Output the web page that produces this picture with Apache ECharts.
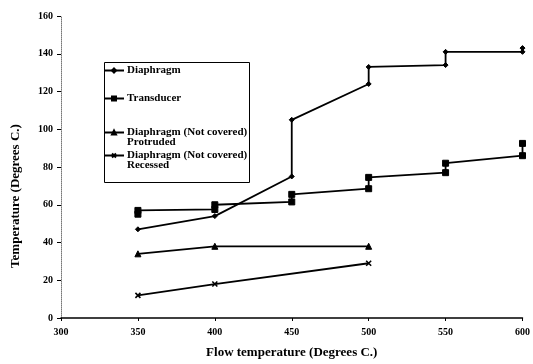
<!DOCTYPE html>
<html style="height: 100%">
<head>
    <meta charset="utf-8">
    <title>Temperature vs flow temperature</title>
    <script src="https://cdn.jsdelivr.net/npm/echarts@6/dist/echarts.min.js"></script>
</head>
<body style="height: 100%; margin: 0; background: #fff">
<div id="main" style="width: 533px; height: 364px"></div>

<script type="text/javascript">

    // data: [flow temperature, temperature]
    var diaphragm = [[350, 47], [400, 54], [450, 75], [450, 105], [500, 124], [500, 133],
                     [550, 134], [550, 141], [600, 141], [600, 143]];
    var transducer = [[350, 55], [350, 57], [400, 57.5], [400, 60], [450, 61.5], [450, 65.5],
                      [500, 68.5], [500, 74.5], [550, 77], [550, 82], [600, 86], [600, 92.5]];
    var protruded = [[350, 34], [400, 38], [500, 38]];
    var recessed = [[350, 12], [400, 18], [500, 29]];

    var seriesNames = ['Diaphragm', 'Transducer', 'Diaphragm (Not covered) Protruded',
                       'Diaphragm (Not covered) Recessed'];
    var legendLabels = ['Diaphragm', 'Transducer', ' \nDiaphragm (Not covered)\nProtruded',
                        ' \nDiaphragm (Not covered)\nRecessed'];
    var legendTops = [65, 93, 117, 140];

    var serif = '"Liberation Serif", "DejaVu Serif", serif';

    var myChart = echarts.init(document.getElementById('main'));

    function lineSeries(name, data, symbol, size, bw) {
        return {
            name: name,
            type: 'line',
            data: data,
            symbol: symbol,
            symbolSize: size,
            showSymbol: true,
            animation: false,
            lineStyle: {color: '#000', width: 1.8},
            itemStyle: {color: '#000', borderColor: '#000', borderWidth: bw}
        };
    }

    var legends = [];
    for (var i = 0; i < seriesNames.length; i++) {
        legends.push({
            data: [seriesNames[i]],
            left: 103,
            top: legendTops[i],
            padding: 0,
            itemWidth: 20,
            itemHeight: 5,
            itemGap: 2,
            selectedMode: false,
            formatter: (function (k) {
                return function () { return legendLabels[k]; };
            })(i),
            textStyle: {
                fontFamily: serif,
                fontWeight: 'bold',
                fontSize: 11,
                lineHeight: 10,
                color: '#000',
                padding: [0, 0, 0, -2]
            }
        });
    }

    var option = {
        backgroundColor: '#fff',
        animation: false,
        grid: {left: 61, right: 10, top: 16, bottom: 44},
        legend: legends,
        xAxis: {
            type: 'value',
            min: 300,
            max: 600,
            interval: 50,
            name: 'Flow temperature (Degrees C.)',
            nameLocation: 'middle',
            nameGap: 28,
            nameTextStyle: {fontFamily: serif, fontWeight: 'bold', fontSize: 13, color: '#000'},
            axisLine: {lineStyle: {color: '#000', width: 1.5}},
            axisTick: {length: 3, lineStyle: {color: '#000'}},
            axisLabel: {fontFamily: serif, fontWeight: 'bold', fontSize: 10, color: '#000', margin: 9},
            splitLine: {show: false}
        },
        yAxis: {
            type: 'value',
            min: 0,
            max: 160,
            interval: 20,
            axisLine: {show: true, lineStyle: {color: '#777', width: 1, type: 'dotted'}},
            axisTick: {show: true, length: 4, lineStyle: {color: '#000'}},
            axisLabel: {fontFamily: serif, fontWeight: 'bold', fontSize: 10, color: '#000', margin: 8},
            splitLine: {show: false}
        },
        graphic: [
            {
                type: 'rect',
                left: 102,
                top: 60,
                shape: {width: 145, height: 120},
                style: {fill: 'none', stroke: '#000', lineWidth: 1},
                silent: true
            },
            {
                type: 'text',
                x: 16,
                y: 196,
                rotation: Math.PI / 2,
                style: {
                    text: 'Temperature (Degrees C.)',
                    font: 'bold 13px ' + serif,
                    fill: '#000',
                    align: 'center',
                    verticalAlign: 'middle'
                }
            }
        ],
        series: [
            lineSeries(seriesNames[0], diaphragm, 'diamond', 5, 1),
            lineSeries(seriesNames[1], transducer, 'rect', 6, 1),
            lineSeries(seriesNames[2], protruded, 'triangle', 6, 1),
            lineSeries(seriesNames[3], recessed, 'path://M0,0L10,10M10,0L0,10', 5, 1.6)
        ]
    };
    myChart.setOption(option, true);

</script>
</body>
</html>
